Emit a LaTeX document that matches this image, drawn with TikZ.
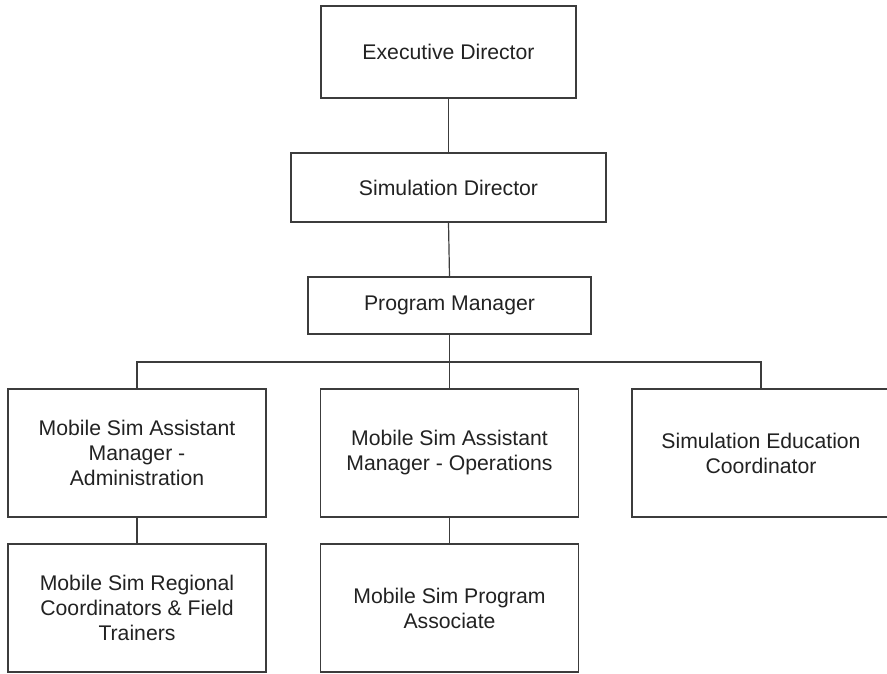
\documentclass[tikz,border=0pt]{standalone}
\usepackage{fontspec}
\setmainfont{Liberation Sans}
\definecolor{inkline}{HTML}{3C3C3C}
\definecolor{inktext}{HTML}{222222}
\begin{document}
\begin{tikzpicture}[x=1pt,y=-1pt,
  orgbox/.style={draw=inkline, line width=1.2pt, fill=white, align=center,
    inner sep=0pt, text=inktext,
    font=\fontsize{21.2pt}{25pt}\selectfont},
  link/.style={draw=inkline, line width=1.2pt}]
\useasboundingbox (0,0) rectangle (887,673);
\clip (0,0) rectangle (887,673);

% top of the hierarchy
\node[orgbox, minimum width=255pt, minimum height=92pt] (exec) at (448.5,52) {Executive Director};
\node[orgbox, minimum width=315pt, minimum height=69pt] (simdir) at (448.5,187.5) {Simulation Director};
\node[orgbox, minimum width=283pt, minimum height=57pt] (pm) at (449.5,305.5) {Program Manager};

% second tier
\node[orgbox, minimum width=258pt, minimum height=128pt] (admin) at (137,453) {Mobile Sim Assistant\\Manager -\\Administration};
\node[orgbox, minimum width=258pt, minimum height=128pt] (ops) at (449.5,453) {Mobile Sim Assistant\\Manager - Operations};
% this box runs past the right edge of the page
\node[orgbox, minimum width=270pt, minimum height=128pt] (sec) at (767,453) {};
\node[text=inktext, align=center, inner sep=0pt,
  font=\fontsize{21.2pt}{25pt}\selectfont] (sectext) at (761,453) {Simulation Education\\Coordinator};

% third tier
\node[orgbox, minimum width=258pt, minimum height=128pt] (regional) at (137,608) {Mobile Sim Regional\\Coordinators \& Field\\Trainers};
\node[orgbox, minimum width=258pt, minimum height=128pt] (assoc) at (449.5,608) {Mobile Sim Program\\Associate};

% connectors
\coordinate (bus) at (449.5,362);
\draw[link] (exec.south) -- (simdir.north);
\draw[link] (simdir.south) -- (pm.north);
\draw[link] (pm.south) -- (ops.north);
\draw[link] (admin.north) |- (bus) -| (sectext |- sec.north);
\draw[link] (admin.south) -- (regional.north);
\draw[link] (ops.south) -- (assoc.north);
\end{tikzpicture}
\end{document}
